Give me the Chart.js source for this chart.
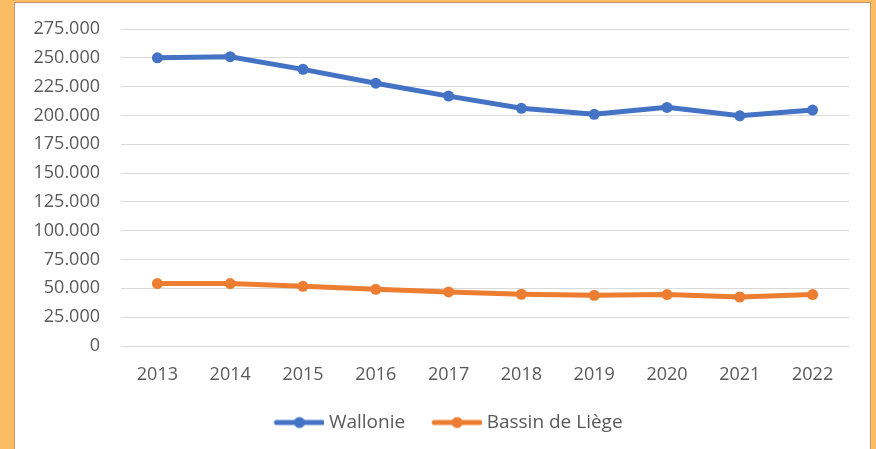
<!DOCTYPE html>
<html>
<head>
<meta charset="utf-8">
<script src="https://cdn.jsdelivr.net/npm/chart.js@4"></script>
<style>
  html, body { margin: 0; padding: 0; }
  body { width: 876px; height: 449px; background: #fbbd63; position: relative; overflow: hidden; }
  #panel { position: absolute; left: 14px; top: 2px; width: 857px; height: 460px;
           background: #fff; border: 1px solid #c8966c; box-sizing: border-box; }
  #canvas { position: absolute; left: 15px; top: 2px; }
</style>
</head>
<body>
<div id="panel"></div>
<canvas id="canvas" width="855" height="447"></canvas>
<script>
// years along the bottom
let years = ['2013', '2014', '2015', '2016', '2017', '2018', '2019', '2020', '2021', '2022'];

// values
let wallonie = [250000, 251000, 240000, 228000, 216800, 206200, 201000, 207000, 199700, 204700];
let liege = [54200, 54200, 51800, 49200, 46900, 44900, 44000, 44600, 42500, 44600];

let blue = '#4472c4';
let orange = '#ed7d31';
let grey = '#595959';

// little line-with-dot picture for the legend
function legendMark(color) {
  let c = document.createElement('canvas');
  c.width = 72;
  c.height = 14;
  let g = c.getContext('2d');
  g.strokeStyle = color;
  g.lineWidth = 5;
  g.lineCap = 'round';
  g.beginPath();
  g.moveTo(24, 7);
  g.lineTo(70, 7);
  g.stroke();
  g.fillStyle = color;
  g.beginPath();
  g.arc(47, 7, 5.5, 0, Math.PI * 2);
  g.fill();
  return c;
}

let marks = [legendMark(blue), legendMark(orange)];

// thousands with a dot
function dots(v) {
  return v.toString().replace(/\B(?=(\d{3})+(?!\d))/g, '.');
}

let options = {
  type: 'line',
  data: {
    labels: years,
    datasets: [
      {
        label: 'Wallonie',
        data: wallonie,
        borderColor: blue,
        backgroundColor: blue,
        borderWidth: 5,
        pointRadius: 5.5,
        pointBorderWidth: 0,
        tension: 0
      },
      {
        label: 'Bassin de Liège',
        data: liege,
        borderColor: orange,
        backgroundColor: orange,
        borderWidth: 5,
        pointRadius: 5.5,
        pointBorderWidth: 0,
        tension: 0
      }
    ]
  },
  options: {
    responsive: false,
    animation: false,
    layout: { padding: { top: 27, right: 21, bottom: 7, left: 16 } },
    scales: {
      x: {
        offset: true,
        grid: { display: false },
        border: { display: false },
        ticks: { color: grey, font: { family: 'Open Sans', size: 18 }, padding: 10, maxRotation: 0 },
        afterFit: (s) => { s.height = 57; }
      },
      y: {
        min: 0,
        max: 275000,
        grid: { color: '#d9d9d9', lineWidth: 1, drawTicks: false },
        border: { display: false },
        ticks: {
          stepSize: 25000,
          color: grey,
          font: { family: 'Open Sans', size: 18 },
          padding: 21,
          callback: (v) => dots(v)
        },
        // keep the wide label gap from pushing the plot down
        afterFit: (s) => { s.width = 90; s.paddingTop = 0; s.paddingBottom = 0; }
      }
    },
    plugins: {
      tooltip: { enabled: false },
      legend: {
        position: 'bottom',
        labels: {
          color: grey,
          font: { family: 'Open Sans', size: 19 },
          usePointStyle: true,
          pointStyleWidth: 62,
          boxHeight: 18,
          padding: 10,
          generateLabels: (chart) => chart.data.datasets.map((d, i) => ({
            text: d.label,
            pointStyle: marks[i],
            fillStyle: d.borderColor,
            strokeStyle: d.borderColor,
            lineWidth: 0,
            fontColor: grey,
            datasetIndex: i
          }))
        }
      }
    }
  }
};

let chart = new Chart(document.getElementById('canvas'), options);
</script>
</body>
</html>
